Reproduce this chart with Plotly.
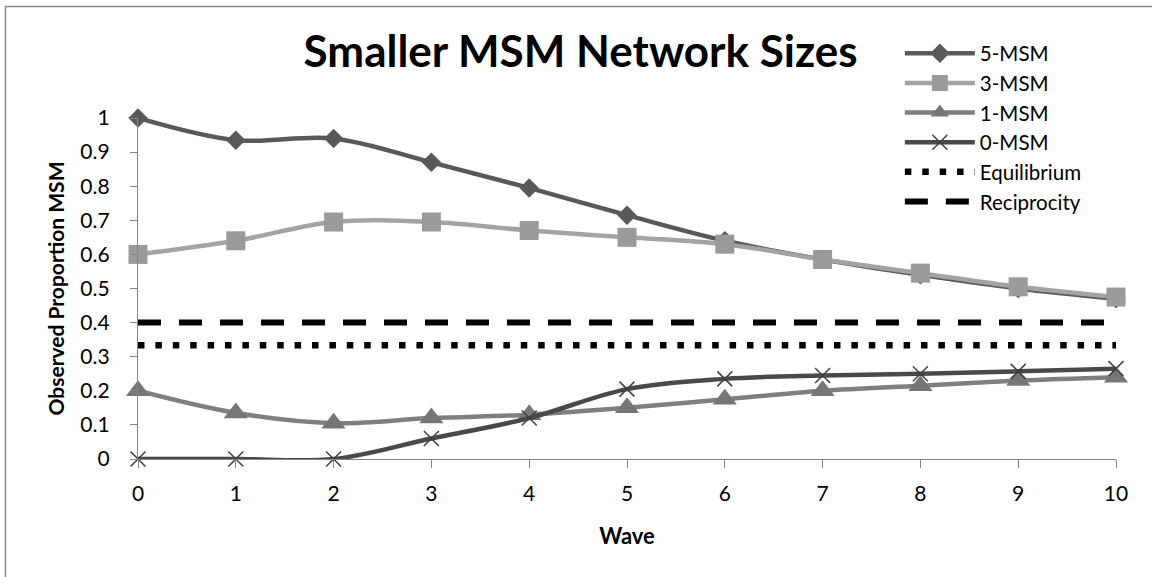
import plotly.graph_objects as go

# Proportion of MSM observed at each wave, by seed network size
waves = [0, 1, 2, 3, 4, 5, 6, 7, 8, 9, 10]
msm5 = [1.0, 0.935, 0.94, 0.87, 0.795, 0.715, 0.64, 0.585, 0.54, 0.50, 0.47]
msm3 = [0.6, 0.64, 0.695, 0.695, 0.67, 0.65, 0.63, 0.585, 0.545, 0.505, 0.475]
msm1 = [0.2, 0.135, 0.105, 0.12, 0.13, 0.15, 0.175, 0.2, 0.215, 0.23, 0.24]
msm0 = [0.0, 0.0, 0.0, 0.06, 0.12, 0.205, 0.235, 0.245, 0.25, 0.257, 0.265]

# Reference levels
equilibrium = 1 / 3
reciprocity = 0.4
ref_x = [waves[0], waves[-1]]

y_ticks = [0, 0.1, 0.2, 0.3, 0.4, 0.5, 0.6, 0.7, 0.8, 0.9, 1]
y_ticktext = ["0", "0.1", "0.2", "0.3", "0.4", "0.5", "0.6", "0.7", "0.8", "0.9", "1"]

FONT = "Lato"
AXIS_GREY = "#868686"

fig = go.Figure()

series = [
    ("5-MSM", msm5, "#595959", "#595959", "diamond", 15),
    ("3-MSM", msm3, "#a3a3a3", "#9a9a9a", "square", 19),
    ("1-MSM", msm1, "#7f7f7f", "#767676", "triangle-up", 21),
]
for name, vals, lcol, mcol, sym, size in series:
    fig.add_trace(go.Scatter(
        x=waves, y=vals, name=name, mode="lines+markers",
        line=dict(color=lcol, width=4.5, shape="spline"),
        marker=dict(symbol=sym, size=size, color=mcol, line=dict(width=0)),
        cliponaxis=False,
    ))

fig.add_trace(go.Scatter(
    x=waves, y=msm0, name="0-MSM", mode="lines+markers",
    line=dict(color="#494949", width=4.5, shape="spline"),
    marker=dict(symbol="x-thin", size=15, color="#404040",
                line=dict(width=1.5, color="#404040")),
    cliponaxis=False,
))

fig.add_trace(go.Scatter(
    x=ref_x, y=[equilibrium, equilibrium], name="Equilibrium", mode="lines",
    line=dict(color="black", width=6.5, dash="6.5px,10.9px"),
    cliponaxis=False,
))
fig.add_trace(go.Scatter(
    x=ref_x, y=[reciprocity, reciprocity], name="Reciprocity", mode="lines",
    line=dict(color="black", width=6, dash="23px,18px"),
    cliponaxis=False,
))

# Outer chart frame
fig.add_shape(type="rect", xref="paper", yref="paper",
              x0=-0.1355, x1=1.2, y0=-0.6, y1=1.327,
              line=dict(color=AXIS_GREY, width=1.5), layer="below")

fig.update_layout(
    width=1152, height=577,
    margin=dict(l=138, r=36, t=118, b=118),
    paper_bgcolor="white", plot_bgcolor="white",
    font=dict(family=FONT, color="black"),
    title=dict(text="<b>Smaller MSM Network Sizes</b>",
               font=dict(family=FONT, size=44, color="black"),
               x=0.504, xanchor="center", y=1 - 52 / 577, yanchor="middle"),
    showlegend=True,
    legend=dict(x=0.779, y=1.248, xanchor="left", yanchor="top",
                bgcolor="rgba(0,0,0,0)", itemwidth=70,
                font=dict(family=FONT, size=20.5, color="black"),
                tracegroupgap=0),
    xaxis=dict(range=[0, 10], tickvals=waves, ticktext=[str(w) for w in waves],
               showgrid=False, zeroline=False, showline=True,
               linecolor=AXIS_GREY, linewidth=1.2,
               ticks="outside", ticklen=8, tickcolor=AXIS_GREY,
               tickfont=dict(family=FONT, size=21),
               ticklabelstandoff=8,
               title=dict(text="<b>Wave</b>", font=dict(family=FONT, size=22),
                          standoff=24)),
    yaxis=dict(range=[0, 1], tickvals=y_ticks, ticktext=y_ticktext,
               showgrid=False, zeroline=False, showline=True,
               linecolor=AXIS_GREY, linewidth=1.2,
               ticks="outside", ticklen=7, tickcolor=AXIS_GREY,
               tickfont=dict(family=FONT, size=21),
               ticklabelstandoff=16,
               title=dict(text="<b>Observed Proportion MSM</b>",
                          font=dict(family=FONT, size=21), standoff=10)),
)

fig.write_html("out.html")
